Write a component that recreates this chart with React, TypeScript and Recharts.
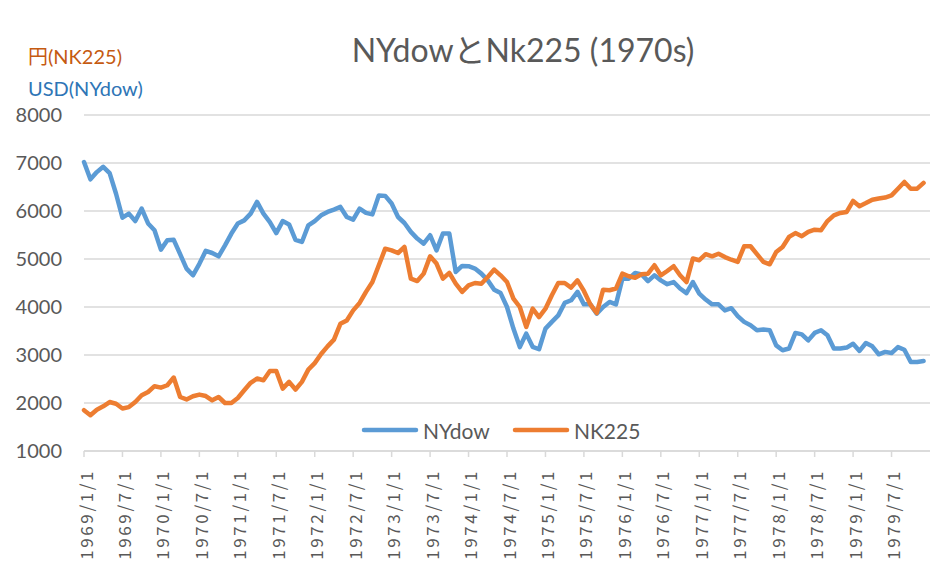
import React from "react";
import {
    LineChart,
    Line,
    XAxis,
    YAxis,
    CartesianGrid,
} from "recharts";

// monthly closes, 1969/1 .. 1979/12
const NYDOW = [
    7020, 6660, 6810, 6920, 6790, 6360, 5860, 5945, 5790, 6050, 5740, 5600,
    5195, 5390, 5400, 5100, 4800, 4660, 4900, 5170, 5125, 5055, 5285, 5530,
    5740, 5805, 5945, 6190, 5945, 5770, 5540, 5790, 5720, 5400, 5355, 5700,
    5790, 5910, 5980, 6030, 6085, 5875, 5820, 6050, 5960, 5930, 6325, 6315,
    6155, 5875, 5750, 5565, 5425, 5320, 5495, 5180, 5530, 5530, 4730, 4855,
    4850, 4800, 4695, 4555, 4360, 4290, 4000, 3550, 3165, 3445, 3170, 3120,
    3550, 3690, 3825, 4085, 4140, 4315, 4055, 4055, 3860, 4000, 4105, 4055,
    4590, 4590, 4710, 4680, 4540, 4660, 4555, 4475, 4520, 4385, 4290, 4520,
    4280, 4155, 4055, 4055, 3930, 3975, 3810, 3690, 3620, 3515, 3530, 3515,
    3200, 3100, 3135, 3460, 3430, 3305, 3460, 3515, 3410, 3135, 3135, 3155,
    3235, 3085, 3250, 3180, 3015, 3065, 3040, 3165, 3110, 2855, 2855, 2875,
];

const NK225 = [
    1850, 1745, 1860, 1930, 2020, 1985, 1885, 1915, 2020, 2160, 2230, 2350,
    2320, 2370, 2530, 2125, 2075, 2140, 2175, 2145, 2055, 2125, 2000, 2000,
    2105, 2265, 2420, 2510, 2475, 2665, 2665, 2300, 2440, 2280, 2440, 2695,
    2830, 3020, 3180, 3320, 3650, 3720, 3930, 4085, 4315, 4520, 4870, 5215,
    5180, 5125, 5250, 4590, 4540, 4695, 5055, 4905, 4590, 4710, 4485, 4315,
    4450, 4500, 4485, 4625, 4780, 4660, 4520, 4175, 4000, 3585, 3965, 3790,
    3965, 4245, 4500, 4500, 4405, 4555, 4335, 4055, 3875, 4360, 4350, 4385,
    4695, 4640, 4610, 4680, 4695, 4870, 4660, 4750, 4850, 4660, 4520, 5010,
    4975, 5100, 5055, 5110, 5040, 4985, 4940, 5265, 5265, 5100, 4940, 4890,
    5145, 5250, 5460, 5540, 5475, 5565, 5610, 5600, 5790, 5910, 5960, 5980,
    6210, 6100, 6165, 6235, 6260, 6280, 6325, 6465, 6605, 6465, 6465, 6585,
];

const TICK_LABELS = [
    "1969/1/1", "1969/7/1", "1970/1/1", "1970/7/1", "1971/1/1", "1971/7/1",
    "1972/1/1", "1972/7/1", "1973/1/1", "1973/7/1", "1974/1/1", "1974/7/1",
    "1975/1/1", "1975/7/1", "1976/1/1", "1976/7/1", "1977/1/1", "1977/7/1",
    "1978/1/1", "1978/7/1", "1979/1/1", "1979/7/1",
];

const Y_TICKS = [1000, 2000, 3000, 4000, 5000, 6000, 7000, 8000];

const SERIES = [
    { key: "NYdow", color: "#5B9BD5" },
    { key: "NK225", color: "#ED7D31" },
];

const GRAY = "#595959";
const LATO = "Lato, 'Noto Sans CJK JP', sans-serif";

const data = NYDOW.map((v, i) => ({ i, NYdow: v, NK225: NK225[i] }));
const xTicks = TICK_LABELS.map((_, k) => k * 6);

function DateTick({ x, y, payload }: any) {
    const label = TICK_LABELS[payload.value / 6] ?? "";
    return (
        <text
            transform={`translate(${x + 1},${y + 10}) rotate(-90)`}
            textAnchor="end"
            dominantBaseline="central"
            fill={GRAY}
            fontSize={17}
            letterSpacing={2.6}
            fontFamily="'Noto Sans CJK JP', sans-serif"
        >
            {label}
        </text>
    );
}

export default function App() {
    return (
        <div style={{ position: "absolute", left: 0, top: 0, width: 950, height: 568, background: "#fff" }}>
            <LineChart width={950} height={568} data={data} margin={{ top: 115, right: 20, left: 0, bottom: 7 }}>
                <CartesianGrid vertical={false} stroke="#D9D9D9" strokeWidth={1.5} />
                <XAxis
                    dataKey="i"
                    type="number"
                    domain={[0, 132]}
                    ticks={xTicks}
                    interval={0}
                    height={110}
                    stroke="#D9D9D9"
                    strokeWidth={1.5}
                    tickSize={6}
                    tick={<DateTick />}
                />
                <YAxis
                    domain={[1000, 8000]}
                    ticks={Y_TICKS}
                    width={84}
                    axisLine={false}
                    tickLine={false}
                    tickSize={0}
                    tickMargin={22}
                    tick={{ fill: GRAY, fontSize: 20, fontFamily: LATO }}
                />
                {SERIES.map((s) => (
                    <Line
                        key={s.key}
                        type="linear"
                        dataKey={s.key}
                        stroke={s.color}
                        strokeWidth={4.5}
                        strokeLinejoin="round"
                        strokeLinecap="round"
                        dot={false}
                        isAnimationActive={false}
                    />
                ))}
            </LineChart>

            {/* legend */}
            <div style={{ position: "absolute", left: 361, top: 418, height: 24, display: "flex", alignItems: "center" }}>
                {SERIES.map((s) => (
                    <div key={s.key} style={{ display: "flex", alignItems: "center", marginRight: 22 }}>
                        <svg width={58} height={10}>
                            <line x1={3} y1={5} x2={55} y2={5} stroke={s.color} strokeWidth={4.5} strokeLinecap="round" />
                        </svg>
                        <span style={{ marginLeft: 4, fontSize: 21, color: GRAY, fontFamily: LATO }}>{s.key}</span>
                    </div>
                ))}
            </div>

            <div style={{ position: "absolute", left: 0, width: 1046, top: 25, textAlign: "center", fontSize: 32, color: GRAY, fontFamily: LATO }}>
                NYdowとNk225 (1970s)
            </div>
            <div style={{ position: "absolute", left: 28, top: 41, fontSize: 20, color: "#C55A11", fontFamily: LATO }}>
                円(NK225)
            </div>
            <div style={{ position: "absolute", left: 28, top: 76, fontSize: 20, color: "#2E75B6", fontFamily: LATO }}>
                USD(NYdow)
            </div>
        </div>
    );
}
